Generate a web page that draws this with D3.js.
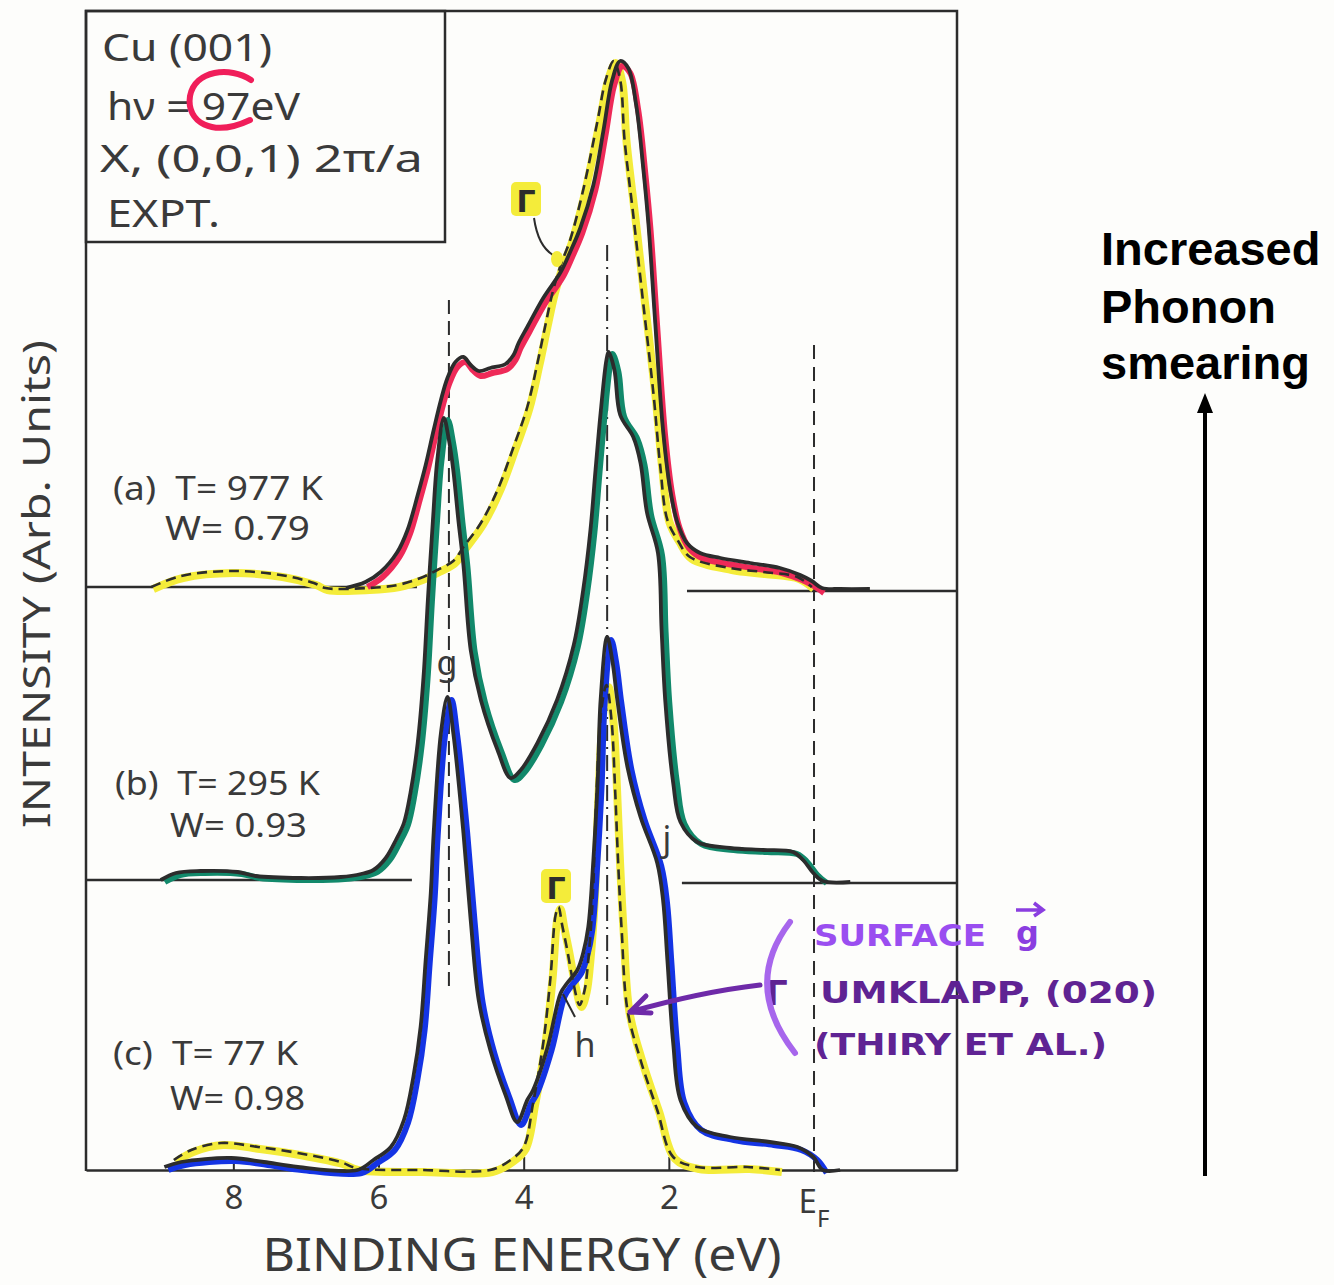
<!DOCTYPE html>
<html><head><meta charset="utf-8">
<script src="https://cdn.jsdelivr.net/npm/d3@7"></script>
<style>body{margin:0;background:#fff}svg{display:block}</style>
</head><body>
<svg id="c" width="1334" height="1285"></svg>
<script>
// ---- data (binding energy eV, intensity arb. units) ----
const tickValues = [8, 6, 4, 2];
const tickLabels = ["8", "6", "4", "2"];
const peakLines = [5.03, 2.85, 0];
// (a) T=977K experiment
const expA = [[6.45,0.2],[6.18,1.4],[5.97,3.4],[5.74,7.4],[5.60,11.8],[5.46,18.8],[5.35,24.8],[5.24,31.8],[5.14,37.8],[5.05,42.2],[4.94,45.4],[4.83,46.4],[4.73,44.8],[4.62,43.6],[4.46,44.2],[4.25,45.0],[4.14,46.8],[4.07,49.2],[3.95,52.4],[3.73,58.2],[3.49,63.4],[3.36,67.4],[3.22,72.2],[3.04,80.8],[2.90,91.8],[2.78,101.8],[2.67,105.6],[2.56,104.2],[2.45,96.8],[2.35,83.8],[2.28,72.8],[2.19,53.8],[2.08,31.8],[1.98,19.8],[1.88,13.2],[1.75,9.2],[1.57,7.2],[1.29,6.2],[0.88,5.2],[0.47,4.2],[0.19,2.8],[0.03,1.6],[-0.11,0.2],[-0.36,0],[-0.77,0]];
// (a) calculation (dashed)
const calcA = [[9.13,0.4],[8.72,2.6],[8.03,3.6],[7.35,2.8],[6.89,1.2],[6.73,0.2],[6.15,0.2],[5.74,0.8],[5.42,2.2],[5.19,3.8],[4.97,5.6],[4.83,8.4],[4.59,13.2],[4.36,19.8],[4.14,28.4],[3.95,36.4],[3.81,45.2],[3.70,52.8],[3.60,59.4],[3.49,64.8],[3.36,69.8],[3.18,79.8],[2.98,93.8],[2.87,101.8],[2.76,105.6],[2.67,101.8],[2.61,89.8],[2.49,74.8],[2.35,56.8],[2.21,38.8],[2.12,24.8],[2.02,13.8],[1.88,9.8],[1.71,6.4],[1.16,4.2],[0.70,3.4],[0.23,2.4],[0.03,0.4]];
// (b) T=295K experiment
const expB = [[9.00,0.2],[8.79,1.6],[8.45,2.0],[7.94,1.8],[7.69,1.0],[7.07,0.6],[6.52,0.8],[6.24,1.4],[6.07,2.2],[5.90,4.6],[5.76,8.2],[5.65,11.6],[5.56,17.6],[5.46,27.6],[5.38,40.8],[5.32,56.2],[5.25,72.2],[5.19,84.2],[5.10,92.6],[5.03,88.2],[4.97,82.2],[4.90,72.2],[4.83,63.2],[4.73,46.2],[4.59,36.2],[4.36,26.2],[4.18,20.6],[4.04,22.2],[3.81,27.6],[3.54,36.2],[3.31,47.2],[3.18,58.2],[3.08,70.2],[3.01,82.2],[2.94,93.6],[2.86,104.2],[2.83,105.8],[2.75,102.2],[2.67,93.2],[2.49,88.8],[2.39,83.6],[2.30,73.6],[2.15,65.6],[2.10,50.2],[2.05,36.2],[1.94,19.6],[1.84,11.8],[1.61,7.8],[1.16,6.6],[0.70,6.2],[0.29,5.8],[0.15,4.2],[0.01,1.6],[-0.12,0],[-0.50,-0.2]];
// (c) T=77K experiment
const expC = [[8.95,0.6],[8.72,1.6],[8.03,2.4],[7.58,1.6],[7.11,0.6],[6.29,0],[6.07,2.0],[5.83,4.6],[5.65,10.0],[5.52,18.6],[5.42,28.6],[5.35,42.0],[5.28,55.4],[5.24,67.4],[5.14,87.4],[5.05,94.6],[4.97,87.4],[4.83,67.4],[4.73,50.0],[4.62,34.0],[4.46,24.0],[4.25,15.0],[4.09,9.6],[3.95,14.0],[3.87,16.0],[3.67,24.6],[3.49,35.4],[3.40,37.4],[3.26,40.0],[3.18,43.4],[3.11,48.6],[3.04,62.0],[2.98,78.0],[2.94,94.0],[2.85,106.6],[2.78,102.0],[2.71,94.0],[2.57,80.6],[2.39,70.6],[2.16,61.4],[2.08,54.0],[2.02,42.0],[1.94,25.4],[1.84,14.0],[1.61,8.6],[1.16,6.6],[0.61,5.6],[0.23,4.6],[0.01,2.6],[-0.12,0],[-0.36,0]];
// (c) calculation (dashed)
const calcC = [[8.82,2.0],[8.58,4.0],[8.17,5.4],[7.66,4.6],[7.11,3.4],[6.52,1.6],[6.31,0.4],[5.42,0],[4.46,0],[4.18,2.0],[4.00,4.6],[3.87,13.4],[3.73,25.4],[3.63,38.6],[3.56,51.0],[3.52,52.6],[3.47,49.0],[3.40,44.0],[3.31,37.0],[3.23,33.0],[3.16,36.0],[3.11,42.0],[3.05,54.0],[3.00,74.0],[2.93,92.0],[2.86,97.0],[2.79,90.0],[2.74,76.0],[2.70,62.0],[2.65,48.0],[2.57,32.0],[2.39,22.0],[2.16,12.0],[1.94,2.6],[1.61,0.6],[0.92,0.6],[0.47,0]];
const panelLabels = [["(a)\u00a0\u00a0T= 977 K","W= 0.79"],["(b)\u00a0\u00a0T= 295 K","W= 0.93"],["(c)\u00a0\u00a0T= 77 K","W= 0.98"]];

// ---- drawing ----
const svg = d3.select("#c");
svg.append("rect").attr("width",1334).attr("height",1285).attr("fill","#fdfdfb");
const x = d3.scaleLinear().domain([10.03,-1.97]).range([86,957]);
const yA = d3.scaleLinear().domain([0,100]).range([589,89]);
const yB = d3.scaleLinear().domain([0,100]).range([881,381]);
const yC = d3.scaleLinear().domain([0,100]).range([1170,670]);
const mk = y => d3.line().x(d=>x(d[0])).y(d=>y(d[1])).curve(d3.curveCatmullRom.alpha(0.5));
const ink = "#2c2c2c";
const txt = "#3a3a3a";

// frame
const fr = svg.append("g").attr("stroke",ink).attr("stroke-width",2.5).attr("fill","none");
fr.append("path").attr("d",`M${x(10.03)},1171 V11 H${x(-1.97)} V1171`);
fr.append("rect").attr("x",x(10.03)).attr("y",11).attr("width",359).attr("height",231);
// panel baselines
fr.append("line").attr("x1",x(10.03)).attr("x2",x(5.47)).attr("y1",yA(0)-2).attr("y2",yA(0)-2);
fr.append("line").attr("x1",x(1.75)).attr("x2",x(-1.97)).attr("y1",yA(0)+2).attr("y2",yA(0)+2);
fr.append("line").attr("x1",x(10.03)).attr("x2",x(5.54)).attr("y1",yB(0)-1).attr("y2",yB(0)-1);
fr.append("line").attr("x1",x(1.82)).attr("x2",x(-1.97)).attr("y1",yB(0)+2).attr("y2",yB(0)+2);

// bottom axis
const ax = svg.append("g").attr("transform",`translate(0,${yC(0)})`)
  .call(d3.axisBottom(x).tickValues(tickValues).tickFormat((d,i)=>tickLabels[i]).tickSizeInner(-13).tickSizeOuter(0).tickPadding(16));
ax.select(".domain").attr("stroke",ink).attr("stroke-width",2.5);
ax.selectAll(".tick line").attr("stroke",ink).attr("stroke-width",2);
ax.selectAll(".tick text").attr("font-family","Noto Sans").attr("font-size",33).attr("fill",txt);
const ef = svg.append("text").attr("x",x(0)).attr("y",1213).attr("text-anchor","middle")
  .attr("font-family","Noto Sans").attr("font-size",33).attr("fill",txt);
ef.append("tspan").text("E");
ef.append("tspan").attr("dy",14).attr("font-size",24).text("F");

// vertical dashed reference lines
const vl = svg.append("g").attr("stroke",ink).attr("stroke-width",2).attr("fill","none");
vl.append("line").attr("x1",x(peakLines[0])).attr("x2",x(peakLines[0])).attr("y1",300).attr("y2",990).attr("stroke-dasharray","14,7");
vl.append("line").attr("x1",x(peakLines[1])).attr("x2",x(peakLines[1])).attr("y1",245).attr("y2",1005).attr("stroke-dasharray","16,6,2,6");
vl.append("line").attr("x1",x(peakLines[2])).attr("x2",x(peakLines[2])).attr("y1",345).attr("y2",1172).attr("stroke-dasharray","14,8");

// yellow highlighter under calc curves
svg.append("path").attr("d",mk(yA)(calcA)).attr("fill","none").attr("stroke","#f4ec3a").attr("stroke-width",8).attr("transform","translate(2,2)").attr("stroke-linejoin","round");
svg.append("path").attr("d",mk(yC)(calcC)).attr("fill","none").attr("stroke","#f4ec3a").attr("stroke-width",8).attr("transform","translate(2,2)").attr("stroke-linejoin","round");

// colored highlights
svg.append("path").attr("d",mk(yA)(expA.slice(1,-2))).attr("fill","none").attr("stroke","#ee2a58").attr("stroke-width",6).attr("transform","translate(2,5)");
svg.append("path").attr("d",mk(yB)(expB.slice(0,-1))).attr("fill","none").attr("stroke","#12896b").attr("stroke-width",6).attr("transform","translate(4,2)");
svg.append("path").attr("d",mk(yC)(expC.slice(0,-1))).attr("fill","none").attr("stroke","#1434e4").attr("stroke-width",6).attr("transform","translate(4,3)");

// black experimental curves
[[expA,yA],[expB,yB],[expC,yC]].forEach(([d,y])=>{
  svg.append("path").attr("d",mk(y)(d)).attr("fill","none").attr("stroke",ink).attr("stroke-width",3.8).attr("stroke-linejoin","round");
});
// dashed calc curves
[[calcA,yA],[calcC,yC]].forEach(([d,y])=>{
  svg.append("path").attr("d",mk(y)(d)).attr("fill","none").attr("stroke",ink).attr("stroke-width",2.6).attr("stroke-dasharray","10,6");
});

// legend box text
const lt = svg.append("g").attr("font-family","Noto Sans").attr("font-size",39).attr("fill",txt);
lt.append("text").attr("x",102).attr("y",61).attr("textLength",170).attr("lengthAdjust","spacingAndGlyphs").text("Cu (001)");
lt.append("text").attr("x",107).attr("y",120).attr("textLength",193).attr("lengthAdjust","spacingAndGlyphs").text("hν = 97eV");
lt.append("text").attr("x",100).attr("y",172).attr("textLength",323).attr("lengthAdjust","spacingAndGlyphs").text("X, (0,0,1) 2π/a");
lt.append("text").attr("x",107).attr("y",227).attr("textLength",113).attr("lengthAdjust","spacingAndGlyphs").text("EXPT.");
// red "C" mark around 97
svg.append("path").attr("d","M251,80 C230,66 195,70 190,96 C186,122 212,138 250,120")
  .attr("fill","none").attr("stroke","#f01e5a").attr("stroke-width",6).attr("stroke-linecap","round");

// panel labels
const pl = svg.append("g").attr("font-family","Noto Sans").attr("font-size",32).attr("fill",txt);
const plPos = [[113,500,210,165,540,145],[115,795,205,170,837,137],[113,1065,185,170,1110,135]];
panelLabels.forEach((l,i)=>{
  const p = plPos[i];
  pl.append("text").attr("x",p[0]).attr("y",p[1]).attr("textLength",p[2]).attr("lengthAdjust","spacingAndGlyphs").text(l[0]);
  pl.append("text").attr("x",p[3]).attr("y",p[4]).attr("textLength",p[5]).attr("lengthAdjust","spacingAndGlyphs").text(l[1]);
});

// peak letters
const pk = svg.append("g").attr("font-family","Noto Sans").attr("font-size",34).attr("fill",txt);
pk.append("text").attr("x",x(5.03)-2).attr("y",675).attr("text-anchor","middle").text("g");
pk.append("text").attr("x",667).attr("y",851).attr("text-anchor","middle").text("j");
pk.append("text").attr("x",585).attr("y",1057).attr("text-anchor","middle").text("h");
svg.append("line").attr("x1",563).attr("y1",994).attr("x2",575).attr("y2",1017).attr("stroke",ink).attr("stroke-width",2);
// Gamma labels with yellow highlight
[[526,212],[556,899]].forEach(([gx,gy])=>{
  svg.append("rect").attr("x",gx-15).attr("y",gy-30).attr("width",30).attr("height",34).attr("rx",5).attr("fill","#f4ec3a");
  svg.append("text").attr("x",gx).attr("y",gy).attr("text-anchor","middle").attr("font-family","DejaVu Sans").attr("font-weight","bold").attr("font-size",30).attr("fill",ink).text("Γ");
});
svg.append("path").attr("d","M534,218 Q538,246 553,255").attr("fill","none").attr("stroke",ink).attr("stroke-width",2);
svg.append("ellipse").attr("cx",557).attr("cy",259).attr("rx",6).attr("ry",8).attr("fill","#f4ec3a");

// axis titles
svg.append("text").attr("transform","translate(50,584) rotate(-90)").attr("text-anchor","middle")
  .attr("font-family","Noto Sans").attr("font-size",39).attr("fill",txt).attr("textLength",488).attr("lengthAdjust","spacingAndGlyphs").text("INTENSITY (Arb. Units)");
svg.append("text").attr("x",522).attr("y",1271).attr("text-anchor","middle")
  .attr("font-family","Noto Sans").attr("font-size",45).attr("fill",txt).attr("textLength",519).attr("lengthAdjust","spacingAndGlyphs").text("BINDING ENERGY (eV)");

// purple annotation
const pu = svg.append("g").attr("font-family","DejaVu Sans").attr("font-weight","bold");
pu.append("text").attr("x",814).attr("y",946).attr("font-size",30).attr("fill","#9a4ef0").attr("textLength",172).attr("lengthAdjust","spacingAndGlyphs").text("SURFACE");
pu.append("text").attr("x",1016).attr("y",944).attr("font-size",32).attr("fill","#8a3ee0").text("g");
pu.append("path").attr("d","M1016,910 H1042 M1034,903 L1043,910 L1034,916").attr("fill","none").attr("stroke","#8a3ee0").attr("stroke-width",3.5);
pu.append("text").attr("x",766).attr("y",1005).attr("font-size",34).attr("fill","#5f2393").text("Γ");
pu.append("text").attr("x",820).attr("y",1003).attr("font-size",30).attr("fill","#5f2393").attr("textLength",337).attr("lengthAdjust","spacingAndGlyphs").text("UMKLAPP, (020)");
pu.append("text").attr("x",814).attr("y",1055).attr("font-size",30).attr("fill","#5f2393").attr("textLength",293).attr("lengthAdjust","spacingAndGlyphs").text("(THIRY ET AL.)");
svg.append("path").attr("d","M790,922 Q742,985 795,1053").attr("fill","none").attr("stroke","#a766ec").attr("stroke-width",6).attr("stroke-linecap","round");
svg.append("path").attr("d","M760,985 Q700,992 630,1012 M630,1012 L646,996 M630,1012 L651,1013").attr("fill","none").attr("stroke","#6e2aa8").attr("stroke-width",5).attr("stroke-linecap","round");

// right-side note
const rn = svg.append("g").attr("font-family","Liberation Sans").attr("font-weight","bold").attr("font-size",47).attr("fill","#000");
rn.append("text").attr("x",1101).attr("y",265).text("Increased");
rn.append("text").attr("x",1101).attr("y",323).text("Phonon");
rn.append("text").attr("x",1101).attr("y",379).text("smearing");
svg.append("line").attr("x1",1205).attr("x2",1205).attr("y1",1176).attr("y2",408).attr("stroke","#000").attr("stroke-width",4);
svg.append("path").attr("d","M1205,393 L1213,413 L1197,413 Z").attr("fill","#000");
</script>
</body></html>
